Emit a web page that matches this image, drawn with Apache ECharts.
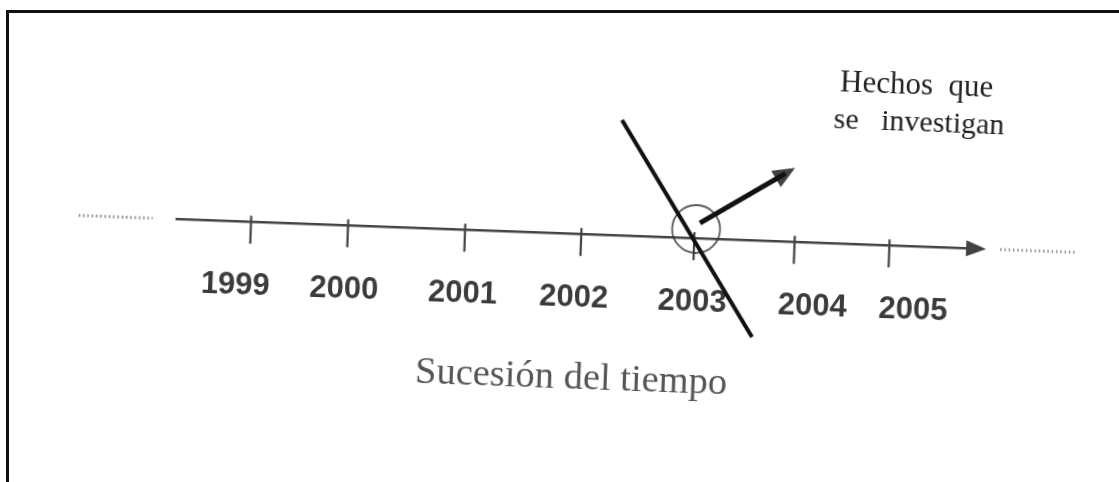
<!DOCTYPE html>
<html><head><meta charset="utf-8">
<script src="https://cdn.jsdelivr.net/npm/echarts@6/dist/echarts.min.js"></script>
<style>
html,body{margin:0;padding:0;background:#fff;}
#wrap{position:relative;width:1119px;height:482px;overflow:hidden;background:#fff;}
#frame{position:absolute;left:6px;top:10px;right:-5px;bottom:-5px;border-top:3px solid #111;border-left:3px solid #111;pointer-events:none;}
#chart{position:absolute;left:0;top:0;width:1119px;height:482px;transform:rotate(2.12deg);transform-origin:559.5px 241px;}
</style></head><body>
<div id="wrap"><div id="chart"></div><div id="frame"></div></div>
<script>
// ---- data (x in years along the time line, y in height above the line) ----
const years      = ['1999','2000','2001','2002','2003','2004','2005'];
const tickAt     = [1999, 1999.912, 2001.012, 2002.104, 2003.166, 2004.109, 2005.0];
const labelAt    = [1998.874, 1999.895, 2001.010, 2002.054, 2003.168, 2004.297, 2005.243];
const timeline   = [1998.29, 2005.815];
const dotsBefore = [1997.38, 1998.075];
const dotsAfter  = [2006.04, 2006.745];
const focus      = [2003.18, 9.2];                       // circled event
const slash      = [[2002.447, 115.4], [2003.742, -96.6]];
const pointer    = [[2003.214, 15.4], [2004.0, 68]];     // shaft start, arrow-head centre
const caption    = 'Sucesión del tiempo';
const noteLines  = ['Hechos  que', 'se   investigan'];

const chart = echarts.init(document.getElementById('chart'), null, {renderer:'canvas'});
const serif = "'Liberation Serif', 'DejaVu Serif', serif";
chart.setOption({
  animation:false,
  backgroundColor:'transparent',
  grid:{left:0,right:0,top:0,bottom:0},
  xAxis:{type:'value',min:1996.647,max:2007.157,show:false},
  yAxis:{type:'value',min:-248.8,max:233.2,show:false},
  series:[
    {type:'line',data:dotsBefore.map(x=>[x,0]),symbol:'none',silent:true,
     lineStyle:{color:'#888',width:3,type:[1.5,2.8]}},
    {type:'line',data:dotsAfter.map(x=>[x,0]),symbol:'none',silent:true,
     lineStyle:{color:'#999',width:3,type:[1.5,2.8]}},
    {type:'line',data:timeline.map(x=>[x,0]),symbol:'none',silent:true,
     lineStyle:{color:'#444',width:2.5}},
    {type:'scatter',data:[[timeline[1],0]],symbol:'triangle',symbolSize:[16,20],symbolRotate:-90,
     itemStyle:{color:'#111'},silent:true},
    {type:'scatter',data:tickAt.map(x=>[x,0]),symbol:'rect',symbolSize:[2.2,28],symbolOffset:[0,8],
     itemStyle:{color:'#111'},silent:true},
    {type:'scatter',data:labelAt.map((x,i)=>({value:[x,0],name:years[i]})),symbolSize:0,silent:true,
     label:{show:true,position:'inside',offset:[0,64.5],formatter:p=>p.name,
       fontFamily:"'Liberation Sans', Arial, sans-serif",fontWeight:'bold',fontSize:31,color:'#0a0a0a'}},
    {type:'scatter',data:[focus],symbol:'circle',symbolSize:48,z:3,silent:true,
     itemStyle:{color:'rgba(0,0,0,0)',borderColor:'#333',borderWidth:1.8}},
    {type:'line',data:slash,symbol:'none',z:4,silent:true,
     lineStyle:{color:'#111',width:4}},
    {type:'line',data:pointer,symbol:'none',z:4,silent:true,
     lineStyle:{color:'#111',width:5}},
    {type:'scatter',data:[pointer[1]],symbol:'triangle',symbolSize:[19,22],symbolRotate:-57.8,z:5,silent:true,
     itemStyle:{color:'#111'}}
  ],
  graphic:[
    {type:'text',left:834,top:57,style:{text:noteLines[0],font:"31px "+serif,fill:'#222'}},
    {type:'text',left:829,top:95,style:{text:noteLines[1],font:"30px "+serif,fill:'#222'}},
    {type:'text',left:420,top:358,style:{text:caption,font:"38.5px "+serif,fill:'#555'}}
  ]
});
</script>
</body></html>
